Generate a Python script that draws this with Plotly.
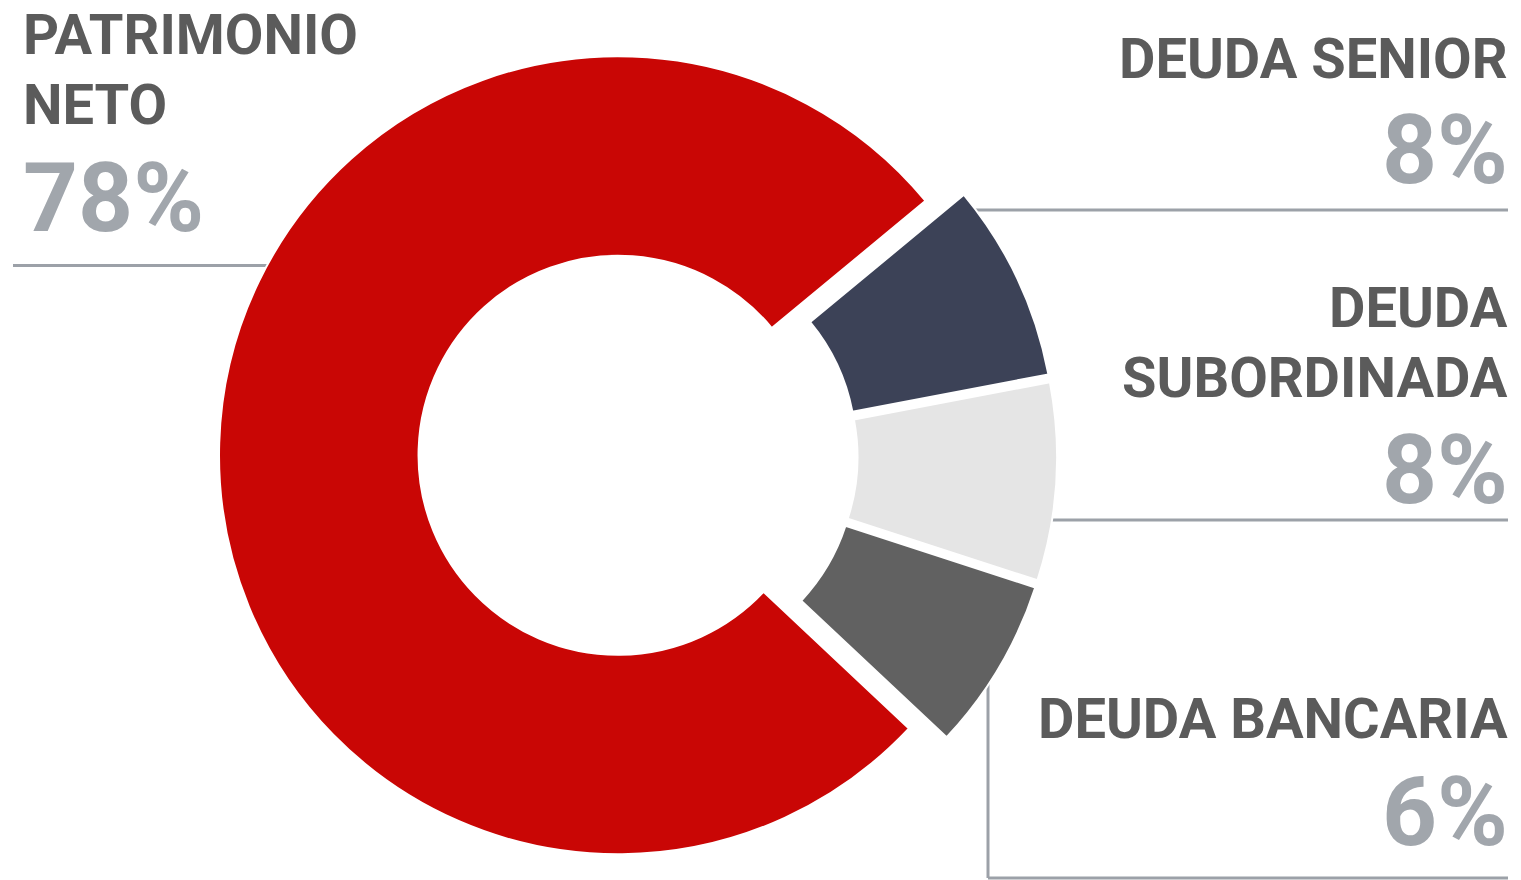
import plotly.graph_objects as go

W, H = 1521, 880

categories = ["PATRIMONIO NETO", "DEUDA SENIOR", "DEUDA SUBORDINADA", "DEUDA BANCARIA"]
values = [77, 8, 8, 7]
pct_labels = ["78%", "8%", "8%", "6%"]
label_lines = [["PATRIMONIO", "NETO"], ["DEUDA SENIOR"], ["DEUDA", "SUBORDINADA"], ["DEUDA BANCARIA"]]
colors = ["#c90605", "#3c4257", "#e5e5e5", "#616161"]
pulls = [0.06, 0.04, 0.04, 0.04]

LABEL_COLOR = "#5b5b5b"
PCT_COLOR = "#a1a6ac"
LINE_COLOR = "#9ca1a8"
FONT = "Roboto"


def px(x):
    return x / W


def py(y):
    return 1 - y / H


fig = go.Figure(go.Pie(
    labels=categories,
    values=values,
    hole=0.5,
    sort=False,
    direction="clockwise",
    rotation=133.2,
    pull=pulls,
    marker=dict(colors=colors, line=dict(color="white", width=2)),
    textinfo="none",
    hoverinfo="label+percent",
    showlegend=False,
    domain=dict(x=[px(219), px(1065)], y=[0.0, py(32)]),
))

annotations = []
# (lines, line centres y, pct centre y, x, anchor)
placements = [
    (label_lines[0], [35, 105], 198, 21, "left"),
    (label_lines[1], [58.5], 149.5, 1510, "right"),
    (label_lines[2], [308, 377.5], 470, 1510, "right"),
    (label_lines[3], [718.5], 812, 1510, "right"),
]
for (lines, ys, pct_y, x, anchor), pct in zip(placements, pct_labels):
    for line, yy in zip(lines, ys):
        annotations.append(dict(
            text=line, x=px(x), y=py(yy), xref="paper", yref="paper",
            xanchor=anchor, yanchor="middle", showarrow=False,
            font=dict(family=FONT, size=56, color=LABEL_COLOR, weight="bold"),
        ))
    annotations.append(dict(
        text=pct, x=px(x), y=py(pct_y), xref="paper", yref="paper",
        xanchor=anchor, yanchor="middle", showarrow=False,
        font=dict(family=FONT, size=96, color=PCT_COLOR, weight="bold"),
    ))

line_style = dict(color=LINE_COLOR, width=3)
shapes = [
    dict(type="line", xref="paper", yref="paper", x0=px(13), x1=px(300), y0=py(265.5), y1=py(265.5), line=line_style, layer="below"),
    dict(type="line", xref="paper", yref="paper", x0=px(972), x1=px(1508), y0=py(210), y1=py(210), line=line_style, layer="below"),
    dict(type="line", xref="paper", yref="paper", x0=px(1048), x1=px(1508), y0=py(520), y1=py(520), line=line_style, layer="below"),
    dict(type="line", xref="paper", yref="paper", x0=px(988), x1=px(988), y0=py(680), y1=py(878), line=line_style, layer="below"),
    dict(type="line", xref="paper", yref="paper", x0=px(988), x1=px(1508), y0=py(878), y1=py(878), line=line_style, layer="below"),
]

fig.update_layout(
    width=W, height=H,
    margin=dict(l=0, r=0, t=0, b=0),
    paper_bgcolor="white", plot_bgcolor="white",
    annotations=annotations, shapes=shapes,
)

fig.write_html(
    "out.html",
    config={"displayModeBar": False},
    post_script="document.body.style.margin='0';document.body.style.overflow='hidden';",
)
